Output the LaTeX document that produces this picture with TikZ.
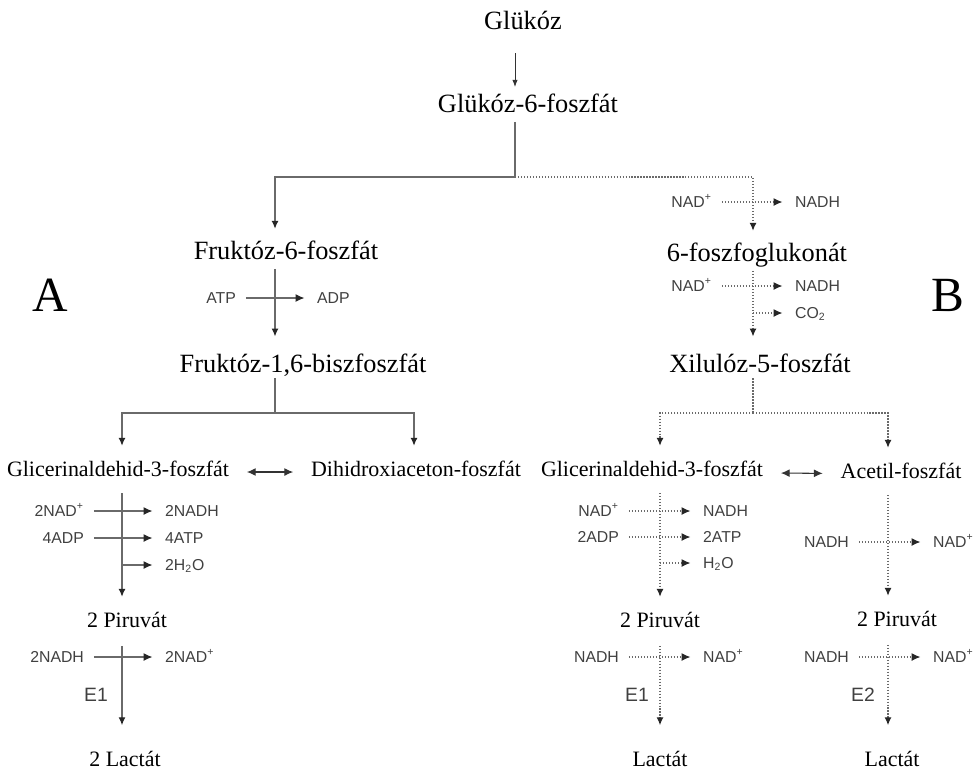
\documentclass[tikz,border=0pt]{standalone}
\usepackage{fontspec}
\setmainfont{Liberation Serif}
\setsansfont{Liberation Sans}
\usepackage{tikz}
\usetikzlibrary{arrows.meta, calc}
\definecolor{linegray}{HTML}{6A6A6A}
\definecolor{labgray}{HTML}{404040}
\tikzstyle{met} = [inner sep=1pt, text height=0.75em, text depth=0.2em, font=\fontsize{15}{18}\selectfont]
\tikzstyle{metsmall} = [met, font=\fontsize{12.5}{15}\selectfont]
\tikzstyle{cof} = [inner sep=1pt, text=labgray, text height=0.8em, text depth=0.2em, font=\sffamily\fontsize{9}{11}\selectfont]
\tikzstyle{enz} = [cof, font=\sffamily\fontsize{11}{13}\selectfont]
\tikzstyle{big} = [inner sep=0pt, font=\fontsize{28}{32}\selectfont]
\tikzstyle{line} = [draw=linegray, line width=0.7pt]
\tikzstyle{arrow} = [line, -{Latex[length=4.5pt,width=4pt,color=black!85]}, shorten <=5pt, shorten >=9pt]
\tikzstyle{crossarrow} = [line, -{Latex[length=5pt,width=4.5pt,color=black!85]}, shorten <=4.5pt, shorten >=6pt]
\tikzstyle{dblarrow} = [draw=black!80, line width=0.6pt, {Latex[length=5pt,width=4.5pt]}-{Latex[length=5pt,width=4.5pt]}, shorten <=9pt, shorten >=9pt]

\begin{document}
\begin{tikzpicture}[x=0.02cm, y=-0.02cm]
    \useasboundingbox (0,0) rectangle (973,772);

    % --- columns and branch points
    \coordinate (xm) at (515,0);
    \coordinate (xa) at (275,0);
    \coordinate (xb) at (753,0);
    \coordinate (xa1) at (122,0);
    \coordinate (xa2) at (414,0);
    \coordinate (xb1) at (660,0);
    \coordinate (xb2) at (888,0);
    \coordinate (j0) at (515,177);
    \coordinate (j1) at (275,413);
    \coordinate (j2) at (753,413);

    % --- glucose
    \node[met] (glu) at (523,25) {Glükóz};
    \node[met] (g6p) at (528,108) {Glükóz-6-foszfát};
    \draw[draw=black!80, line width=0.5pt, -{Latex[length=4pt,width=3pt]}, shorten <=10pt, shorten >=6pt] (glu.south -| xm) -- (g6p.north -| xm);
    \draw[line, shorten <=2pt] (g6p.south -| xm) -- (j0);

    % --- A: glycolysis
    \node[big] (labA) at (50,295) {A};
    \node[met] (f6p) at (286,255) {Fruktóz-6-foszfát};
    \node[met] (f16) at (303,368) {Fruktóz-1,6-biszfoszfát};
    \draw[arrow, shorten <=0pt] (j0) -| (f6p.north -| xa);
    \draw[arrow, shorten <=2pt, shorten >=12pt] (f6p.south -| xa) -- (f16.north -| xa);
    \node[cof, anchor=east] (atp) at (238,298) {ATP};
    \node[cof, anchor=west] (adp) at (315,298) {ADP};
    \draw[crossarrow] (atp) -- (adp);
    \draw[line] (f16.south -| xa) -- (j1);

    \node[metsmall] (gapA) at (118,472) {Glicerinaldehid-3-foszfát};
    \node[metsmall] (dhap) at (416,472) {Dihidroxiaceton-foszfát};
    \draw[arrow, shorten <=0pt] (j1) -| (gapA.north -| xa1);
    \draw[arrow, shorten <=0pt] (j1) -| (dhap.north -| xa2);
    \draw[dblarrow] (gapA) -- (dhap);

    \node[metsmall] (pirA) at (127,623) {2 Piruvát};
    \node[metsmall] (lacA) at (125,762) {2 Lactát};
    \draw[arrow, shorten <=6pt] (gapA.south -| xa1) -- (pirA.north -| xa1);
    \node[cof, anchor=east] (nadA) at (86,511) {2NAD\textsuperscript{+}};
    \node[cof, anchor=west] (nadhA) at (163,511) {2NADH};
    \draw[crossarrow] (nadA) -- (nadhA);
    \node[cof, anchor=east] (adpA) at (86,538) {4ADP};
    \node[cof, anchor=west] (atpA) at (163,538) {4ATP};
    \draw[crossarrow] (adpA) -- (atpA);
    \coordinate (wA) at (122,565);
    \node[cof, anchor=west] (h2oA) at (163,565) {2H\textsubscript{2}O};
    \draw[crossarrow, shorten <=0pt] (wA) -- (h2oA);
    \draw[arrow, shorten <=7pt, shorten >=15pt] (pirA.south -| xa1) -- (lacA.north -| xa1);
    \node[cof, anchor=east] (nadhA2) at (86,657) {2NADH};
    \node[cof, anchor=west] (nadA2) at (163,657) {2NAD\textsuperscript{+}};
    \draw[crossarrow] (nadhA2) -- (nadA2);
    \node[enz] (e1A) at (96,696) {E1};

    % --- B: pentose phosphate route
    \node[big] (labB) at (948,295) {B};
    \node[met] (pg6) at (757,257) {6-foszfoglukonát};
    \node[met] (xu5) at (760,368) {Xilulóz-5-foszfát};
    \draw[arrow, densely dotted, shorten <=0pt] (j0) -| (pg6.north -| xb);
    \node[cof, anchor=east] (nad0) at (714,202) {NAD\textsuperscript{+}};
    \node[cof, anchor=west] (nadh0) at (793,202) {NADH};
    \draw[crossarrow, densely dotted] (nad0) -- (nadh0);
    \draw[arrow, densely dotted, shorten <=2pt, shorten >=12pt] (pg6.south -| xb) -- (xu5.north -| xb);
    \node[cof, anchor=east] (nad1) at (714,286) {NAD\textsuperscript{+}};
    \node[cof, anchor=west] (nadh1) at (793,286) {NADH};
    \draw[crossarrow, densely dotted] (nad1) -- (nadh1);
    \coordinate (wC) at (753,313);
    \node[cof, anchor=west] (co2) at (793,313) {CO\textsubscript{2}};
    \draw[crossarrow, densely dotted, shorten <=0pt] (wC) -- (co2);
    \draw[line, densely dotted] (xu5.south -| xb) -- (j2);

    \node[metsmall] (gapB) at (652,472) {Glicerinaldehid-3-foszfát};
    \node[metsmall] (acp) at (901,474) {Acetil-foszfát};
    \draw[arrow, densely dotted, shorten <=0pt] (j2) -| (gapB.north -| xb1);
    \draw[arrow, densely dotted, shorten <=0pt] (j2) -| (acp.north -| xb2);
    \draw[dblarrow] (gapB) -- (acp);

    \node[metsmall] (pirB) at (660,623) {2 Piruvát};
    \node[metsmall] (lacB) at (660,762) {Lactát};
    \draw[arrow, densely dotted, shorten <=6pt] (gapB.south -| xb1) -- (pirB.north -| xb1);
    \node[cof, anchor=east] (nadB) at (621,511) {NAD\textsuperscript{+}};
    \node[cof, anchor=west] (nadhB) at (701,511) {NADH};
    \draw[crossarrow, densely dotted] (nadB) -- (nadhB);
    \node[cof, anchor=east] (adpB) at (621,537) {2ADP};
    \node[cof, anchor=west] (atpB) at (701,537) {2ATP};
    \draw[crossarrow, densely dotted] (adpB) -- (atpB);
    \coordinate (wB) at (660,563);
    \node[cof, anchor=west] (h2oB) at (701,563) {H\textsubscript{2}O};
    \draw[crossarrow, densely dotted, shorten <=0pt] (wB) -- (h2oB);
    \draw[arrow, densely dotted, shorten <=7pt, shorten >=15pt] (pirB.south -| xb1) -- (lacB.north -| xb1);
    \node[cof, anchor=east] (nadhB2) at (621,657) {NADH};
    \node[cof, anchor=west] (nadB2) at (701,657) {NAD\textsuperscript{+}};
    \draw[crossarrow, densely dotted] (nadhB2) -- (nadB2);
    \node[enz] (e1B) at (637,696) {E1};

    \node[metsmall] (pirC) at (897,622) {2 Piruvát};
    \node[metsmall] (lacC) at (892,762) {Lactát};
    \draw[arrow, densely dotted, shorten <=6pt] (acp.south -| xb2) -- (pirC.north -| xb2);
    \node[cof, anchor=east] (nadhC) at (851,542) {NADH};
    \node[cof, anchor=west] (nadC) at (931,542) {NAD\textsuperscript{+}};
    \draw[crossarrow, densely dotted] (nadhC) -- (nadC);
    \draw[arrow, densely dotted, shorten <=7pt, shorten >=15pt] (pirC.south -| xb2) -- (lacC.north -| xb2);
    \node[cof, anchor=east] (nadhC2) at (851,657) {NADH};
    \node[cof, anchor=west] (nadC2) at (931,657) {NAD\textsuperscript{+}};
    \draw[crossarrow, densely dotted] (nadhC2) -- (nadC2);
    \node[enz] (e2C) at (863,696) {E2};

\end{tikzpicture}
\end{document}
